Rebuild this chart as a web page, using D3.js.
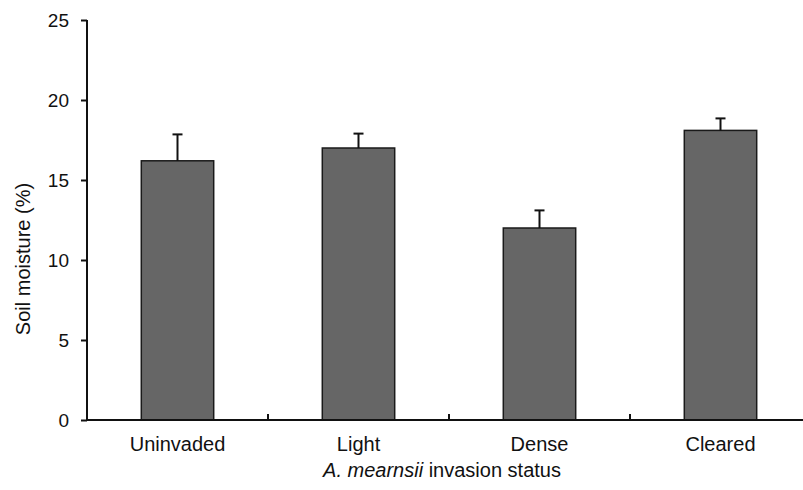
<!DOCTYPE html>
<html lang="en">
<head>
  <meta charset="utf-8">
  <title>Soil moisture</title>
  <script src="https://d3js.org/d3.v7.min.js"></script>
  <style>
    body { margin: 0; background: #fff; }
    text { font-family: "Liberation Sans", Arial, sans-serif; fill: #111; }
    .bar { fill: #666666; stroke: #1a1a1a; stroke-width: 1.5; }
    .err { stroke: #111; stroke-width: 2; fill: none; }
  </style>
</head>
<body>
  <script>
    var categories = ["Uninvaded", "Light", "Dense", "Cleared"];
    var moisture = [16.2, 17.0, 12.0, 18.1];
    var errTop = [17.85, 17.9, 13.1, 18.85];
    var yTicks = [0, 5, 10, 15, 20, 25];

    var width = 803, height = 490;
    var marginLeft = 87, marginTop = 20, plotH = 400, plotW = 724;

    var svg = d3.select("body").append("svg")
      .attr("width", width)
      .attr("height", height);

    var g = svg.append("g")
      .attr("transform", "translate(" + marginLeft + "," + marginTop + ")");

    var x = d3.scaleBand().domain(categories).range([0, plotW]).padding(0);
    var y = d3.scaleLinear().domain([0, 25]).range([plotH, 0]);

    var barW = x.bandwidth() * 0.4;

    // bars
    g.selectAll(".bar")
      .data(categories)
      .enter()
      .append("rect")
      .attr("class", "bar")
      .attr("x", function (d) { return x(d) + x.bandwidth() / 2 - barW / 2; })
      .attr("y", function (d, i) { return y(moisture[i]); })
      .attr("width", barW)
      .attr("height", function (d, i) { return plotH - y(moisture[i]); });

    // error bars (upper only)
    var eb = g.selectAll(".eb").data(categories).enter().append("g");
    eb.append("line")
      .attr("class", "err")
      .attr("x1", function (d) { return x(d) + x.bandwidth() / 2; })
      .attr("x2", function (d) { return x(d) + x.bandwidth() / 2; })
      .attr("y1", function (d, i) { return y(moisture[i]); })
      .attr("y2", function (d, i) { return y(errTop[i]); });
    eb.append("line")
      .attr("class", "err")
      .attr("x1", function (d) { return x(d) + x.bandwidth() / 2 - 5; })
      .attr("x2", function (d) { return x(d) + x.bandwidth() / 2 + 5; })
      .attr("y1", function (d, i) { return y(errTop[i]); })
      .attr("y2", function (d, i) { return y(errTop[i]); });

    // y axis
    var yAxis = g.append("g")
      .call(d3.axisLeft(y).tickValues(yTicks).tickSize(6).tickPadding(12));
    yAxis.select(".domain").attr("stroke", "#111").attr("stroke-width", 2).attr("d", "M0," + plotH + "V0");
    yAxis.selectAll(".tick line").attr("stroke", "#111").attr("stroke-width", 2);
    yAxis.selectAll(".tick text").attr("font-size", "19px").attr("fill", "#111");

    // x axis: ticks between categories, pointing up
    var xAxis = g.append("g").attr("transform", "translate(0," + plotH + ")");
    xAxis.append("line")
      .attr("x1", 0).attr("x2", plotW)
      .attr("y1", 0).attr("y2", 0)
      .attr("stroke", "#111").attr("stroke-width", 2);
    xAxis.selectAll(".sep")
      .data(categories.slice(1))
      .enter()
      .append("line")
      .attr("x1", function (d) { return x(d); })
      .attr("x2", function (d) { return x(d); })
      .attr("y1", 0).attr("y2", -6)
      .attr("stroke", "#111").attr("stroke-width", 2);
    xAxis.selectAll(".lab")
      .data(categories)
      .enter()
      .append("text")
      .attr("x", function (d) { return x(d) + x.bandwidth() / 2; })
      .attr("y", 31)
      .attr("text-anchor", "middle")
      .attr("font-size", "20px")
      .text(function (d) { return d; });

    // axis titles
    svg.append("text")
      .attr("transform", "translate(30,259) rotate(-90)")
      .attr("text-anchor", "middle")
      .attr("font-size", "20px")
      .text("Soil moisture (%)");

    var xt = svg.append("text")
      .attr("x", 442)
      .attr("y", 477)
      .attr("text-anchor", "middle")
      .attr("font-size", "20px");
    xt.append("tspan").attr("font-style", "italic").text("A. mearnsii");
    xt.append("tspan").text(" invasion status");
  </script>
</body>
</html>
